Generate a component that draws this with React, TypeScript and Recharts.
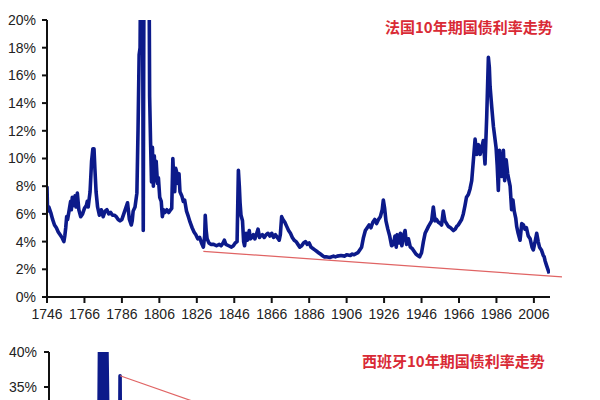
import React from 'react';
import { LineChart, Line, XAxis, YAxis, ReferenceLine } from 'recharts';

// France 10y government bond yield (%)
const frYears = [
  1746, 1746.3, 1747, 1748, 1749, 1750, 1751, 1752, 1753, 1754, 1755, 1755.5, 1756, 1756.5, 1757, 1758, 1758.6, 1759, 1759.5, 1760,
  1761, 1761.5, 1762.2, 1763, 1764, 1765, 1766, 1767, 1767.5, 1768, 1769, 1769.8, 1770.5, 1771.1, 1771.6, 1772.2, 1773, 1774, 1775, 1776,
  1777, 1778, 1779, 1780, 1781, 1782, 1783, 1784, 1785, 1786, 1787, 1788, 1789, 1790, 1791, 1791.5, 1792, 1793, 1794, 1794.6,
  1795.2, 1795.7, 1796.3, 1796.9, 1797.4, 1797.9, 1799, 1800.3, 1800.8, 1801.3, 1801.8, 1802.3, 1802.8, 1803.3, 1803.8, 1804.3, 1805, 1805.5, 1806.2, 1807,
  1807.6, 1808.2, 1809, 1810, 1811, 1812, 1812.6, 1813.2, 1813.7, 1814.2, 1814.7, 1815.3, 1816, 1816.5, 1817, 1818, 1818.8, 1819.5, 1820.5, 1821.5,
  1822.4, 1823.5, 1824.5, 1825.5, 1826.5, 1827.5, 1828.5, 1829.5, 1830.2, 1830.5, 1831, 1831.5, 1832.5, 1833.5, 1835, 1836.5, 1838, 1839, 1840, 1840.7,
  1841.5, 1843, 1844.5, 1845.5, 1846.5, 1847.5, 1848.2, 1848.7, 1849.1, 1849.6, 1850.4, 1851, 1851.5, 1852.3, 1853, 1854, 1854.6, 1855.5, 1856.2, 1857,
  1858, 1858.7, 1859.5, 1860, 1861, 1862, 1863, 1864, 1865, 1866, 1867, 1868, 1869, 1870, 1870.6, 1871.3, 1872, 1873, 1874, 1875,
  1876, 1877, 1878, 1879, 1880, 1881, 1882, 1883, 1884, 1885, 1886, 1887, 1888, 1889, 1890, 1891, 1892, 1893, 1894, 1895,
  1897, 1899, 1900, 1901, 1903, 1905, 1906, 1908, 1909, 1910, 1912, 1913, 1914, 1915, 1916, 1917, 1918, 1919, 1920, 1921,
  1922, 1923, 1924, 1925, 1925.6, 1926.3, 1927, 1928, 1929, 1930, 1931, 1931.8, 1932.5, 1933, 1934, 1934.7, 1935.5, 1936.5, 1937.2, 1938,
  1939, 1940, 1941, 1942, 1943, 1944, 1945, 1946, 1947, 1947.9, 1949, 1949.7, 1951.4, 1952.3, 1953.2, 1954, 1955, 1956, 1956.7, 1957.6,
  1958.5, 1959.4, 1960.3, 1961.5, 1963, 1964, 1964.8, 1965.6, 1966.5, 1967.4, 1968.3, 1969.2, 1970, 1971, 1971.9, 1972.8, 1973.7, 1974.6, 1975.5, 1976.4,
  1977.3, 1978.2, 1979, 1979.9, 1980.8, 1981.7, 1982.2, 1982.6, 1983.5, 1984.4, 1985.8, 1986.4, 1987, 1987.6, 1988.3, 1988.9, 1989.7, 1990.4, 1991.2, 1992,
  1992.7, 1993.3, 1994.1, 1994.8, 1995.5, 1996.3, 1996.8, 1997.6, 1998.6, 1999.5, 2000.4, 2001.2, 2002, 2003, 2004, 2005, 2005.7, 2006.5, 2007.5, 2008.3,
  2009, 2010, 2011, 2011.5, 2012, 2012.7, 2013.2, 2013.7, 2014.2,
];
const frValues = [
  8.0, 6.2, 6.5, 6.1, 5.6, 5.2, 5.0, 4.7, 4.5, 4.3, 4.0, 4.4, 5.0, 5.8, 5.6, 6.4, 6.9, 6.3, 7.2, 6.6,
  7.3, 6.5, 7.5, 6.3, 5.8, 6.0, 6.4, 6.6, 6.9, 6.5, 7.6, 9.8, 10.7, 10.7, 9.2, 7.6, 6.5, 5.9, 6.3, 5.8,
  6.2, 6.3, 6.0, 6.1, 5.9, 5.9, 5.8, 5.6, 5.5, 5.6, 6.0, 6.4, 6.8, 5.6, 5.2, 5.5, 6.2, 6.5, 7.5, 12.0,
  17.5, 18.0, 30, 30, 4.8, 30, 35, 30, 14.5, 11.2, 8.3, 10.8, 8.0, 10.2, 8.4, 9.8, 8.2, 8.6, 7.2, 6.9,
  5.8, 6.3, 6.1, 6.3, 6.1, 6.3, 6.4, 10.0, 8.5, 7.6, 9.3, 9.0, 8.2, 8.9, 7.6, 7.3, 6.9, 7.0, 6.2, 5.8,
  5.4, 5.0, 4.7, 4.5, 4.2, 4.3, 3.9, 3.6, 4.4, 5.9, 4.8, 4.2, 3.9, 3.8, 3.8, 3.7, 3.8, 3.7, 3.9, 4.1,
  3.8, 3.7, 3.6, 3.7, 3.9, 4.0, 9.15, 8.0, 6.8, 5.9, 5.5, 4.0, 3.7, 4.6, 4.1, 4.8, 4.2, 4.3, 4.5, 4.2,
  4.6, 4.9, 4.3, 4.4, 4.5, 4.3, 4.5, 4.6, 4.4, 4.6, 4.3, 4.5, 4.3, 4.1, 4.5, 5.8, 5.6, 5.4, 5.1, 4.8,
  4.6, 4.3, 4.1, 4.0, 3.8, 3.6, 3.7, 3.9, 4.0, 3.8, 3.9, 3.6, 3.5, 3.4, 3.3, 3.2, 3.1, 3.0, 2.9, 2.9,
  2.85, 2.95, 2.9, 2.95, 3.0, 2.95, 3.05, 3.0, 3.1, 3.05, 3.2, 3.4, 3.6, 4.3, 4.8, 5.0, 5.2, 5.0, 5.4, 5.6,
  5.3, 5.6, 5.8, 6.3, 7.0, 6.4, 5.5, 4.9, 4.4, 3.7, 3.8, 4.4, 3.6, 4.5, 3.9, 4.6, 3.7, 4.5, 4.8, 3.8,
  4.2, 3.6, 3.5, 3.3, 3.1, 3.0, 2.9, 3.2, 4.0, 4.6, 4.9, 5.1, 5.5, 6.5, 5.5, 5.6, 5.4, 5.3, 5.2, 6.2,
  5.5, 5.3, 5.1, 5.0, 4.8, 4.9, 5.1, 5.2, 5.4, 5.6, 6.0, 6.6, 7.2, 7.4, 7.8, 8.4, 9.9, 11.4, 10.3, 11.0,
  10.3, 10.8, 11.3, 9.6, 13.0, 17.3, 16.6, 15.2, 13.7, 12.3, 10.8, 9.5, 7.7, 10.6, 9.3, 8.7, 10.6, 8.4, 9.9, 8.9,
  8.4, 8.0, 6.3, 7.0, 6.2, 5.7, 5.1, 4.6, 4.1, 5.3, 5.2, 4.9, 5.0, 4.4, 4.2, 3.6, 3.4, 3.9, 4.6, 4.0,
  3.6, 3.4, 3.0, 2.9, 2.6, 2.3, 2.1, 1.9, 1.7,
];
const frTrendYears = [1829.5, 2021];
const frTrendValues = [3.3, 1.45];

// Spain (only the top of the chart is visible)
const esYears = [1772.5, 1773.2, 1773.8, 1774.4, 1775, 1775.6, 1776.2, 1776.8, 1778, 1783.6, 1784.1, 1784.6];
const esValues = [20, 45, 30, 45, 28, 45, 30, 45, 22, 12, 36.6, 12];
const esTrendYears = [1784.1, 1840];
const esTrendValues = [36.6, 31.4];

const xTicks = [1746, 1766, 1786, 1806, 1826, 1846, 1866, 1886, 1906, 1926, 1946, 1966, 1986, 2006];
const frYTicks = [0, 2, 4, 6, 8, 10, 12, 14, 16, 18, 20];
const esYTicks = [35, 40];
const frTitle = '法国10年期国债利率走势';
const esTitle = '西班牙10年期国债利率走势';

const frData = frYears.map((y, i) => ({ year: y, v: frValues[i] }));
const esData = esYears.map((y, i) => ({ year: y, v: esValues[i] }));

const LINE = '#0c1a8a';
const RED = '#e06464';
const tickStyle = { fontSize: 14, fill: '#222', fontFamily: 'Liberation Sans, Arial, sans-serif' };
const axisStyle = { stroke: '#111', strokeWidth: 2 };
const titleStyle: React.CSSProperties = {
  position: 'absolute',
  fontFamily: '"Noto Sans CJK SC", sans-serif',
  fontWeight: 700,
  fontSize: 15,
  lineHeight: '16px',
  color: '#d92a35',
  whiteSpace: 'nowrap',
};

export default function App() {
  return (
    <div style={{ position: 'absolute', left: 0, top: 0, width: 600, height: 400, overflow: 'hidden', background: '#fff' }}>
      <div style={{ position: 'absolute', left: 0, top: 0 }}>
        <LineChart width={600} height={330} data={frData} margin={{ top: 20, right: 50, left: 7, bottom: 3 }}>
          <XAxis
            type="number"
            dataKey="year"
            domain={[1746, 2014.6]}
            ticks={xTicks}
            allowDataOverflow
            tick={tickStyle}
            tickSize={6}
            tickMargin={6}
            axisLine={axisStyle}
            tickLine={axisStyle}
            height={30}
          />
          <YAxis
            type="number"
            domain={[0, 20]}
            ticks={frYTicks}
            allowDataOverflow
            tickFormatter={(v: number) => `${v}%`}
            tick={tickStyle}
            tickSize={5}
            tickMargin={6}
            axisLine={axisStyle}
            tickLine={axisStyle}
            width={40}
          />
          <Line
            type="linear"
            dataKey="v"
            stroke={LINE}
            strokeWidth={3.6}
            strokeLinejoin="round"
            dot={false}
            activeDot={false}
            isAnimationActive={false}
          />
          <ReferenceLine
            segment={[
              { x: frTrendYears[0], y: frTrendValues[0] },
              { x: frTrendYears[1], y: frTrendValues[1] },
            ]}
            stroke={RED}
            strokeWidth={1.2}
            ifOverflow="visible"
          />
        </LineChart>
      </div>
      <div style={{ ...titleStyle, left: 385, top: 19 }}>{frTitle}</div>

      <div style={{ position: 'absolute', left: 0, top: 330 }}>
        <LineChart width={600} height={305} data={esData} margin={{ top: 22, right: 50, left: 9, bottom: 3 }}>
          <XAxis type="number" dataKey="year" domain={[1746, 2014.6]} allowDataOverflow hide />
          <YAxis
            type="number"
            domain={[0, 40]}
            ticks={esYTicks}
            allowDataOverflow
            tickFormatter={(v: number) => `${v}%`}
            tick={tickStyle}
            tickSize={5}
            tickMargin={7}
            axisLine={axisStyle}
            tickLine={axisStyle}
            width={40}
          />
          <Line
            type="linear"
            dataKey="v"
            stroke={LINE}
            strokeWidth={3.6}
            strokeLinejoin="round"
            dot={false}
            activeDot={false}
            isAnimationActive={false}
          />
          <ReferenceLine
            segment={[
              { x: esTrendYears[0], y: esTrendValues[0] },
              { x: esTrendYears[1], y: esTrendValues[1] },
            ]}
            stroke={RED}
            strokeWidth={1.2}
            ifOverflow="visible"
          />
        </LineChart>
      </div>
      <div style={{ ...titleStyle, left: 362, top: 353 }}>{esTitle}</div>
    </div>
  );
}
